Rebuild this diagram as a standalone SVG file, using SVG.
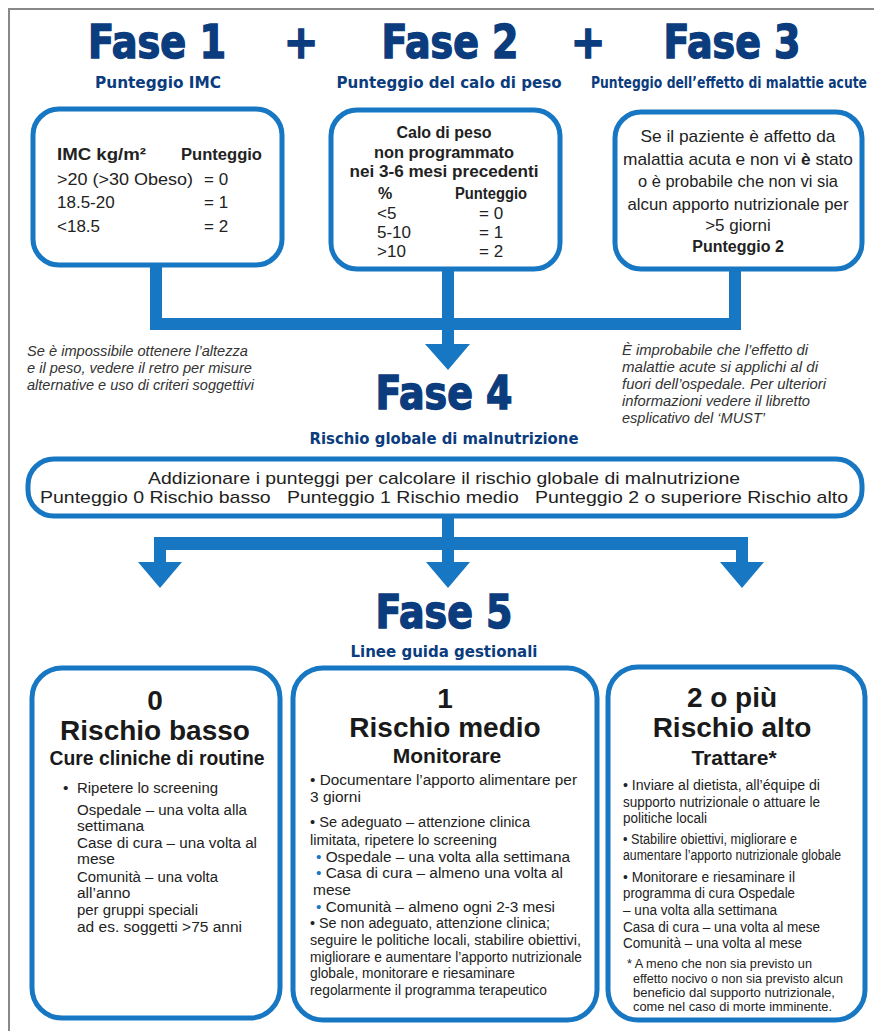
<svg xmlns="http://www.w3.org/2000/svg" width="874" height="1031" viewBox="0 0 874 1031">
<style>
.frame{fill:none;stroke:#888;stroke-width:2}
.box{fill:#fff;stroke:#1777c2;stroke-width:5}
.bar{fill:#1777c2}
.fase{font-family:"DejaVu Sans Condensed","Liberation Sans",sans-serif;font-weight:bold;font-size:46px;fill:#0b3c7d;stroke:#0b3c7d;stroke-width:1.4;text-anchor:middle}
.sub{font-family:"DejaVu Sans Condensed","Liberation Sans",sans-serif;font-weight:bold;font-size:16.5px;fill:#0b3c7d;text-anchor:middle}
.t{font-family:"Liberation Sans",Arial,sans-serif;font-size:17px;fill:#222}
.tb{font-family:"Liberation Sans",Arial,sans-serif;font-size:16px;font-weight:bold;fill:#222}
.c{text-anchor:middle}
.note{font-family:"Liberation Sans",Arial,sans-serif;font-size:14px;font-style:italic;fill:#333}
.h1{font-family:"Liberation Sans",Arial,sans-serif;font-weight:bold;font-size:28px;fill:#1a1a1a;text-anchor:middle}
.h2{font-family:"Liberation Sans",Arial,sans-serif;font-weight:bold;font-size:21px;fill:#1a1a1a;text-anchor:middle}
.b{font-family:"Liberation Sans",Arial,sans-serif;font-size:15.5px;fill:#222}
.s{font-family:"Liberation Sans",Arial,sans-serif;font-size:13.5px;fill:#222}
.blue{fill:#1777c2}
</style>
<rect x="0" y="0" width="874" height="1031" fill="#fff"/>
<path class="frame" d="M9 1031 V9 H874"/>

<g id="headers">
<text class="fase" x="157" y="58" textLength="138" lengthAdjust="spacingAndGlyphs">Fase 1</text>
<text class="fase" x="301" y="58">+</text>
<text class="fase" x="450" y="58" textLength="137" lengthAdjust="spacingAndGlyphs">Fase 2</text>
<text class="fase" x="588" y="58">+</text>
<text class="fase" x="732" y="58" textLength="137" lengthAdjust="spacingAndGlyphs">Fase 3</text>
<text class="sub" x="158" y="88" textLength="126" lengthAdjust="spacingAndGlyphs">Punteggio IMC</text>
<text class="sub" x="449" y="88" textLength="225" lengthAdjust="spacingAndGlyphs">Punteggio del calo di peso</text>
<text class="sub" x="729" y="88" font-size="14.5" textLength="276" lengthAdjust="spacingAndGlyphs">Punteggio dell’effetto di malattie acute</text>
</g>

<g id="connectors">
<rect class="bar" x="150" y="262" width="12" height="68"/>
<rect class="bar" x="442" y="267" width="12" height="63"/>
<rect class="bar" x="729" y="267" width="12" height="63"/>
<rect class="bar" x="150" y="318" width="591" height="12"/>
<rect class="bar" x="442" y="318" width="12" height="28"/>
<polygon class="bar" points="425,344 470,344 448,370"/>
<rect class="bar" x="442" y="514" width="12" height="36"/>
<rect class="bar" x="154" y="537" width="594" height="13"/>
<rect class="bar" x="154" y="537" width="12" height="28"/>
<polygon class="bar" points="138,562 182,562 160,588"/>
<rect class="bar" x="442" y="537" width="12" height="28"/>
<polygon class="bar" points="426,562 470,562 448,588"/>
<rect class="bar" x="736" y="537" width="12" height="28"/>
<polygon class="bar" points="720,562 764,562 742,588"/>
</g>

<g id="fase1">
<rect class="box" x="33" y="109" width="249" height="156" rx="26"/>
<text class="tb" x="57" y="160" textLength="89" lengthAdjust="spacingAndGlyphs">IMC kg/m²</text>
<text class="tb" x="181" y="160" textLength="81" lengthAdjust="spacingAndGlyphs">Punteggio</text>
<text class="t" x="57" y="185" textLength="136" lengthAdjust="spacingAndGlyphs">&gt;20 (&gt;30 Obeso)</text>
<text class="t" x="204" y="185">= 0</text>
<text class="t" x="57" y="208">18.5-20</text>
<text class="t" x="204" y="208">= 1</text>
<text class="t" x="57" y="232">&lt;18.5</text>
<text class="t" x="204" y="232">= 2</text>
</g>

<g id="fase2">
<rect class="box" x="331" y="110" width="229" height="159" rx="26"/>
<text class="tb c" x="444" y="138">Calo di peso</text>
<text class="tb c" x="444" y="158" textLength="140" lengthAdjust="spacingAndGlyphs">non programmato</text>
<text class="tb c" x="444" y="177" textLength="189" lengthAdjust="spacingAndGlyphs">nei 3-6 mesi precedenti</text>
<text class="tb" x="378" y="199">%</text>
<text class="tb" x="455" y="199" textLength="72" lengthAdjust="spacingAndGlyphs">Punteggio</text>
<text class="t" x="377" y="219">&lt;5</text>
<text class="t" x="479" y="219">= 0</text>
<text class="t" x="377" y="238">5-10</text>
<text class="t" x="479" y="238">= 1</text>
<text class="t" x="377" y="257">&gt;10</text>
<text class="t" x="479" y="257">= 2</text>
</g>

<g id="fase3">
<rect class="box" x="615" y="112" width="247" height="157" rx="26"/>
<text class="t c" x="738" y="142" textLength="195" lengthAdjust="spacingAndGlyphs">Se il paziente è affetto da</text>
<text class="t c" x="738" y="165" textLength="230" lengthAdjust="spacingAndGlyphs">malattia acuta e non vi <tspan font-weight="bold">è</tspan> stato</text>
<text class="t c" x="738" y="187" textLength="200" lengthAdjust="spacingAndGlyphs">o è probabile che non vi sia</text>
<text class="t c" x="738" y="210" textLength="221" lengthAdjust="spacingAndGlyphs">alcun apporto nutrizionale per</text>
<text class="t c" x="738" y="231">&gt;5 giorni</text>
<text class="tb c" x="738" y="252" font-size="17">Punteggio 2</text>
</g>

<g id="note-left">
<text class="note" x="27" y="356" textLength="221" lengthAdjust="spacingAndGlyphs">Se è impossibile ottenere l’altezza</text>
<text class="note" x="27" y="373" textLength="225" lengthAdjust="spacingAndGlyphs">e il peso, vedere il retro per misure</text>
<text class="note" x="27" y="390" textLength="227" lengthAdjust="spacingAndGlyphs">alternative e uso di criteri soggettivi</text>
</g>

<g id="note-right">
<text class="note" x="622" y="355" textLength="186" lengthAdjust="spacingAndGlyphs">È improbabile che l’effetto di</text>
<text class="note" x="622" y="372" textLength="196" lengthAdjust="spacingAndGlyphs">malattie acute si applichi al di</text>
<text class="note" x="622" y="389" textLength="204" lengthAdjust="spacingAndGlyphs">fuori dell’ospedale. Per ulteriori</text>
<text class="note" x="622" y="406" textLength="188" lengthAdjust="spacingAndGlyphs">informazioni vedere il libretto</text>
<text class="note" x="622" y="423" textLength="143" lengthAdjust="spacingAndGlyphs">esplicativo del ‘MUST’</text>
</g>

<g id="fase4">
<text class="fase" x="444" y="409" textLength="137" lengthAdjust="spacingAndGlyphs">Fase 4</text>
<text class="sub" x="444" y="444" textLength="269" lengthAdjust="spacingAndGlyphs">Rischio globale di malnutrizione</text>
<rect class="box" x="28" y="459" width="834" height="57" rx="26"/>
<text class="t c" x="444" y="484" font-size="17.5" textLength="592" lengthAdjust="spacingAndGlyphs">Addizionare i punteggi per calcolare il rischio globale di malnutrizione</text>
<text class="t c" x="444" y="503" font-size="17.5" textLength="808" lengthAdjust="spacingAndGlyphs" xml:space="preserve">Punteggio 0 Rischio basso   Punteggio 1 Rischio medio   Punteggio 2 o superiore Rischio alto</text>
</g>

<g id="fase5">
<text class="fase" x="444" y="628" textLength="137" lengthAdjust="spacingAndGlyphs">Fase 5</text>
<text class="sub" x="444" y="657" textLength="187" lengthAdjust="spacingAndGlyphs">Linee guida gestionali</text>
</g>

<g id="rischio-basso">
<rect class="box" x="32" y="668" width="248" height="350" rx="30"/>
<text class="h1" x="155" y="710">0</text>
<text class="h1" x="155" y="740">Rischio basso</text>
<text class="h2" x="157" y="765" textLength="215" lengthAdjust="spacingAndGlyphs">Cure cliniche di routine</text>
<text class="b" x="63" y="793">•</text>
<text class="b" x="77" y="793" font-size="15" textLength="141" lengthAdjust="spacingAndGlyphs">Ripetere lo screening</text>
<text class="b" x="77" y="815" font-size="15" textLength="170" lengthAdjust="spacingAndGlyphs">Ospedale – una volta alla</text>
<text class="b" x="77" y="831" font-size="15">settimana</text>
<text class="b" x="77" y="848" font-size="15" textLength="180" lengthAdjust="spacingAndGlyphs">Case di cura – una volta al</text>
<text class="b" x="77" y="864" font-size="15">mese</text>
<text class="b" x="77" y="882" font-size="15" textLength="141" lengthAdjust="spacingAndGlyphs">Comunità – una volta</text>
<text class="b" x="77" y="898" font-size="15">all’anno</text>
<text class="b" x="77" y="915" font-size="15" textLength="121" lengthAdjust="spacingAndGlyphs">per gruppi speciali</text>
<text class="b" x="77" y="932" font-size="15" textLength="165" lengthAdjust="spacingAndGlyphs">ad es. soggetti &gt;75 anni</text>
</g>

<g id="rischio-medio">
<rect class="box" x="293" y="668" width="304" height="352" rx="30"/>
<text class="h1" x="445" y="708">1</text>
<text class="h1" x="445" y="737">Rischio medio</text>
<text class="h2" x="447" y="763">Monitorare</text>
<text class="b" x="310" y="785" textLength="267" lengthAdjust="spacingAndGlyphs">• Documentare l’apporto alimentare per</text>
<text class="b" x="310" y="802">3 giorni</text>
<text class="b" x="310" y="827" textLength="220" lengthAdjust="spacingAndGlyphs">• Se adeguato – attenzione clinica</text>
<text class="b" x="310" y="845" textLength="187" lengthAdjust="spacingAndGlyphs">limitata, ripetere lo screening</text>
<text class="b" x="316" y="862" textLength="254" lengthAdjust="spacingAndGlyphs"><tspan class="blue">•</tspan> Ospedale – una volta alla settimana</text>
<text class="b" x="316" y="878" textLength="247" lengthAdjust="spacingAndGlyphs"><tspan class="blue">•</tspan> Casa di cura – almeno una volta al</text>
<text class="b" x="313" y="895">mese</text>
<text class="b" x="316" y="912" textLength="239" lengthAdjust="spacingAndGlyphs"><tspan class="blue">•</tspan> Comunità – almeno ogni 2-3 mesi</text>
<text class="b" x="310" y="928" textLength="240" lengthAdjust="spacingAndGlyphs">• Se non adeguato, attenzione clinica;</text>
<text class="b" x="310" y="945" textLength="271" lengthAdjust="spacingAndGlyphs">seguire le politiche locali, stabilire obiettivi,</text>
<text class="b" x="310" y="962" textLength="272" lengthAdjust="spacingAndGlyphs">migliorare e aumentare l’apporto nutrizionale</text>
<text class="b" x="310" y="978" textLength="205" lengthAdjust="spacingAndGlyphs">globale, monitorare e riesaminare</text>
<text class="b" x="310" y="995" textLength="237" lengthAdjust="spacingAndGlyphs">regolarmente il programma terapeutico</text>
</g>

<g id="rischio-alto">
<rect class="box" x="608" y="667" width="257" height="353" rx="30"/>
<text class="h1" x="732" y="707">2 o più</text>
<text class="h1" x="732" y="737">Rischio alto</text>
<text class="h2" x="734" y="765">Trattare*</text>
<text class="b" x="623" y="790" textLength="197" lengthAdjust="spacingAndGlyphs">• Inviare al dietista, all’équipe di</text>
<text class="b" x="623" y="807" textLength="197" lengthAdjust="spacingAndGlyphs">supporto nutrizionale o attuare le</text>
<text class="b" x="623" y="823" textLength="84" lengthAdjust="spacingAndGlyphs">politiche locali</text>
<text class="b" x="623" y="844" textLength="174" lengthAdjust="spacingAndGlyphs">• Stabilire obiettivi, migliorare e</text>
<text class="b" x="623" y="860" font-size="12.5" textLength="218" lengthAdjust="spacingAndGlyphs">aumentare l’apporto nutrizionale globale</text>
<text class="b" x="623" y="882" textLength="172" lengthAdjust="spacingAndGlyphs">• Monitorare e riesaminare il</text>
<text class="b" x="623" y="898" textLength="172" lengthAdjust="spacingAndGlyphs">programma di cura Ospedale</text>
<text class="b" x="623" y="915" textLength="154" lengthAdjust="spacingAndGlyphs">– una volta alla settimana</text>
<text class="b" x="623" y="932" textLength="197" lengthAdjust="spacingAndGlyphs">Casa di cura – una volta al mese</text>
<text class="b" x="623" y="948" textLength="179" lengthAdjust="spacingAndGlyphs">Comunità – una volta al mese</text>
<text class="s" x="627" y="968" textLength="185" lengthAdjust="spacingAndGlyphs">* A meno che non sia previsto un</text>
<text class="s" x="633" y="983" textLength="210" lengthAdjust="spacingAndGlyphs">effetto nocivo o non sia previsto alcun</text>
<text class="s" x="633" y="997" textLength="202" lengthAdjust="spacingAndGlyphs">beneficio dal supporto nutrizionale,</text>
<text class="s" x="633" y="1011" textLength="199" lengthAdjust="spacingAndGlyphs">come nel caso di morte imminente.</text>
</g>
</svg>
